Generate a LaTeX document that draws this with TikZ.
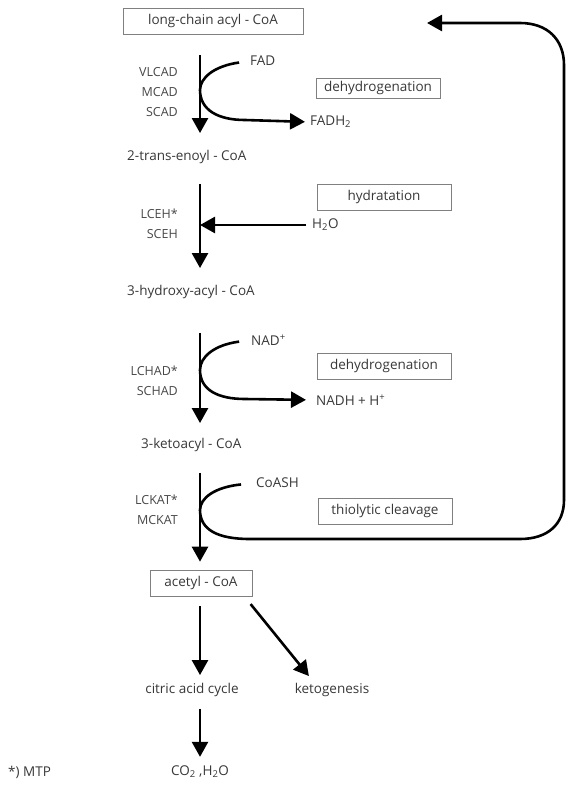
\documentclass[tikz,border=0pt]{standalone}
\usepackage{fontspec}
\setmainfont{Open Sans}
\usetikzlibrary{arrows.meta}

\tikzset{
  flow/.style={line width=2.6pt, -{Triangle[length=15pt,width=16pt]}},
  stage/.style={inner sep=0pt, anchor=west, text=black!78, font=\fontsize{13.5}{15}\selectfont},
  enzyme/.style={inner sep=0pt, anchor=east, align=right, text=black!72, font=\fontsize{12.5}{20}\selectfont},
  stepbox/.style={draw=black!50, line width=0.6pt, text=black!78, font=\fontsize{13.5}{15}\selectfont, minimum height=26pt, inner xsep=6pt},
}

\begin{document}
\begin{tikzpicture}[x=1pt, y=-1pt]
  \useasboundingbox (0,0) rectangle (567,792);
  \coordinate (ax) at (200,0);

  % metabolites
  \node[stepbox, minimum width=180pt] (lcacyl) at (213,21) {long-chain acyl - CoA};
  \node[stage] (enoyl) at (127,157) {2-trans-enoyl - CoA};
  \node[stage] (hydroxy) at (127,292) {3-hydroxy-acyl - CoA};
  \node[stage] (ketoacyl) at (141,445) {3-ketoacyl - CoA};
  \node[stepbox, minimum width=102pt] (acetyl) at (201,583) {acetyl - CoA};
  \node[stage, anchor=center] (citric) at (192,690) {citric acid cycle};
  \node[stage, anchor=center] (ketogen) at (332,690) {ketogenesis};
  \node[stage, anchor=center] (water) at (200,772) {CO\textsubscript{2} ,H\textsubscript{2}O};
  \node[stage] (mtp) at (8,772) {*) MTP};

  % enzymes
  \node[enzyme] (acad) at (178,92) {VLCAD\\MCAD\\SCAD};
  \node[enzyme] (ceh) at (178,224) {LCEH*\\SCEH};
  \node[enzyme] (chad) at (178,381) {LCHAD*\\SCHAD};
  \node[enzyme] (ckat) at (178,510) {LCKAT*\\MCKAT};

  % cofactors
  \node[stage] (fad) at (250,61) {FAD};
  \node[stage] (fadh) at (310,122) {FADH\textsubscript{2}};
  \node[stage] (hho) at (312,225) {H\textsubscript{2}O};
  \node[stage] (nad) at (251,340) {NAD\textsuperscript{+}};
  \node[stage] (nadh) at (316,400) {NADH + H\textsuperscript{+}};
  \node[stage] (coash) at (256,483) {CoASH};

  % reaction types
  \node[stepbox, minimum width=124pt, minimum height=20pt] (dh1) at (378,88) {dehydrogenation};
  \node[stepbox, minimum width=134pt] (hyd) at (384,197) {hydratation};
  \node[stepbox, minimum width=134pt] (dh2) at (384,366) {dehydrogenation};
  \node[stepbox, minimum width=134pt] (thio) at (385,511) {thiolytic cleavage};

  % main chain
  \draw[flow, shorten <=21pt, shorten >=17pt] (lcacyl.south -| ax) -- (enoyl.north -| ax);
  \draw[flow, shorten <=20pt, shorten >=17pt] (enoyl.south -| ax) -- (hydroxy.north -| ax);
  \draw[flow, shorten <=34pt, shorten >=15pt] (hydroxy.south -| ax) -- (ketoacyl.north -| ax);
  \draw[flow, shorten <=21pt, shorten >=8pt] (ketoacyl.south -| ax) -- (acetyl.north -| ax);

  % side reactions
  \draw[flow, shorten <=11pt, shorten >=5pt] (fad.west) .. controls (214,66) and (200,78) .. (200,90)
    .. controls (200,110) and (218,120) .. (245,120) -- (fadh.west);
  \draw[flow, shorten <=6pt] (hho.west) -- (hho.west -| ax);
  \draw[flow, shorten <=12pt, shorten >=10pt] (nad.west) .. controls (214,345) and (200,357) .. (200,370)
    .. controls (200,390) and (218,399) .. (245,399) -- (nadh.west);

  % thiolysis, back to the start
  \coordinate (back) at (427,23);
  \draw[flow, shorten <=15pt] (coash.west) .. controls (215,487) and (200,498) .. (200,510)
    .. controls (200,530) and (218,539) .. (250,539) -- (520,539)
    .. controls (548,539) and (564,524) .. (564,500) -- (564,65)
    .. controls (564,40) and (548,23) .. (520,23) -- (back);

  % products
  \draw[flow, shorten <=10pt, shorten >=8pt] (acetyl.south -| ax) -- (citric.north -| ax);
  \draw[flow, shorten <=10pt, shorten >=9pt] ([xshift=-8pt]acetyl.south east) -- ([xshift=20pt]ketogen.north west);
  \draw[flow, shorten <=12pt, shorten >=9pt] (citric.south -| ax) -- (water.north -| ax);
\end{tikzpicture}
\end{document}
